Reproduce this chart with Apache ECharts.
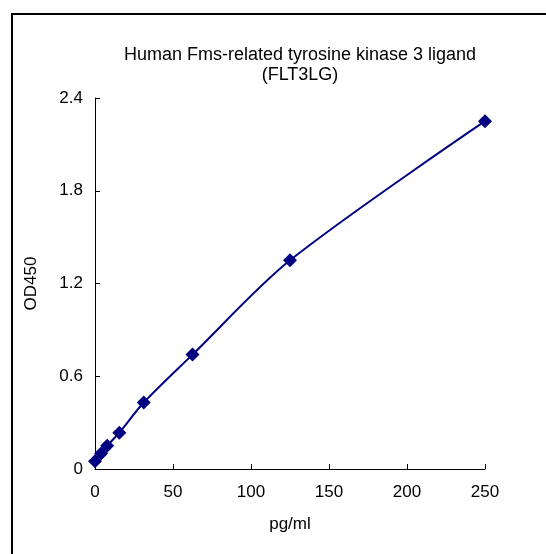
<!DOCTYPE html>
<html>
<head>
<meta charset="utf-8">
<script src="https://cdn.jsdelivr.net/npm/echarts@6/dist/echarts.min.js"></script>
<style>
  html, body { margin: 0; padding: 0; background: #fff; }
  #chart { width: 546px; height: 554px; }
</style>
</head>
<body>
<div id="chart"></div>
<script>
// standard curve data
const concentrations = [0, 3.9, 7.8, 15.6, 31.25, 62.5, 125, 250]
const od450 = [0.05, 0.10, 0.15, 0.235, 0.43, 0.74, 1.35, 2.25]
const titleLines = ['Human Fms-related tyrosine kinase 3 ligand', '(FLT3LG)']

const font = 'Liberation Sans, Arial, sans-serif'
const chart = echarts.init(document.getElementById('chart'))

chart.setOption({
  animation: false,
  title: {
    text: titleLines.join('\n'),
    left: 295,
    top: 40,
    textAlign: 'center',
    textStyle: {
      fontFamily: font,
      fontSize: 18,
      fontWeight: 'normal',
      color: '#000',
      lineHeight: 20
    }
  },
  graphic: [
    {
      type: 'rect',
      shape: { x: 12, y: 14, width: 700, height: 700 },
      style: { fill: 'none', stroke: '#000', lineWidth: 2 },
      silent: true
    }
  ],
  grid: {
    left: 95,
    right: 61,
    top: 98,
    bottom: 85
  },
  xAxis: {
    type: 'value',
    min: 0,
    max: 250,
    interval: 50,
    name: 'pg/ml',
    nameLocation: 'middle',
    nameGap: 47,
    nameTextStyle: { fontFamily: font, fontSize: 17, color: '#000' },
    axisLine: { show: true, lineStyle: { color: '#000', width: 1 } },
    axisTick: { show: true, inside: true, length: 5, lineStyle: { color: '#000' } },
    axisLabel: { fontFamily: font, fontSize: 17, color: '#000', margin: 15 },
    splitLine: { show: false }
  },
  yAxis: {
    type: 'value',
    min: 0,
    max: 2.4,
    interval: 0.6,
    name: 'OD450',
    nameLocation: 'middle',
    nameGap: 55,
    nameTextStyle: { fontFamily: font, fontSize: 17, color: '#000' },
    axisLine: { show: true, lineStyle: { color: '#000', width: 1 } },
    axisTick: { show: true, inside: true, length: 5, lineStyle: { color: '#000' } },
    axisLabel: {
      fontFamily: font,
      fontSize: 17,
      color: '#000',
      margin: 12,
      formatter: v => (v === 0 ? '0' : v.toFixed(1))
    },
    splitLine: { show: false }
  },
  series: [
    {
      type: 'line',
      data: concentrations.map((c, i) => [c, od450[i]]),
      smooth: 0.3,
      symbol: 'diamond',
      symbolSize: 14,
      lineStyle: { color: '#000080', width: 2 },
      itemStyle: { color: '#000080' }
    }
  ]
})
</script>
</body>
</html>
